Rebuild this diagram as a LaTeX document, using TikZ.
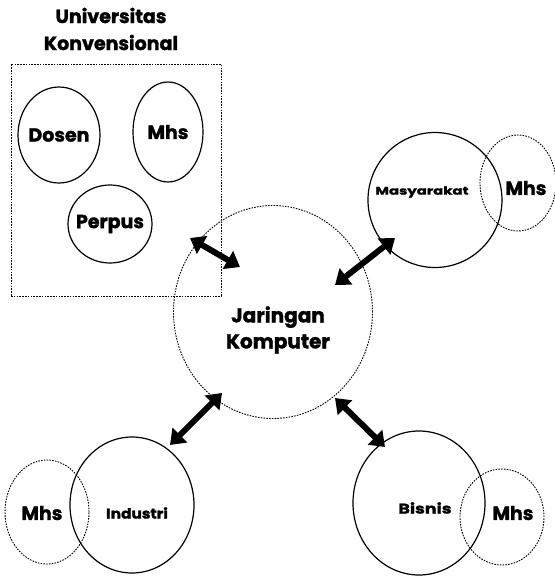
\documentclass[tikz,border=0pt]{standalone}
\usepackage{fontspec}
\setmainfont{Poppins}[BoldFeatures={FakeBold=1.5}]
\usetikzlibrary{shapes.geometric,arrows.meta}
\tikzset{
  solidc/.style={ellipse,draw,line width=1.2pt,inner sep=0pt},
  dashc/.style={ellipse,draw,line width=0.9pt,dash pattern=on 1.6pt off 1.2pt,inner sep=0pt},
  lbl/.style={font=\fontsize{19}{19}\selectfont\bfseries},
  biarrow/.style={line width=6pt,{Triangle[length=14pt,width=20pt]}-{Triangle[length=14pt,width=20pt]}}
}
\begin{document}
\begin{tikzpicture}[x=1pt,y=-1pt]
\useasboundingbox (0,0) rectangle (555,582);
% title
\node[align=center,font=\fontsize{19}{27}\selectfont\bfseries] (title) at (111,29) {Universitas\\Konvensional};
% box
\node[draw,line width=0.9pt,dash pattern=on 1.6pt off 1.2pt,minimum width=210pt,minimum height=232pt,inner sep=0pt] (box) at (116,180) {};
\node[solidc,minimum width=82pt,minimum height=96pt] (dosen) at (59,135) {};
\node[lbl] (dosentxt) at (dosen.center) {Dosen};
\node[solidc,minimum width=70pt,minimum height=100pt] (mhs1) at (168,132) {};
\node[lbl] (mhs1txt) at (mhs1.center) {Mhs};
\node[solidc,minimum width=84pt,minimum height=78pt] (perpus) at (110,224) {};
\node[lbl] (perpustxt) at (perpus.center) {Perpus};
% center
\node[dashc,minimum width=199pt,minimum height=213pt] (jar) at (273,312) {};
\node[align=center,font=\fontsize{20}{26}\selectfont\bfseries] (jartxt) at (278,330) {Jaringan\\Komputer};
% masyarakat
\node[dashc,minimum width=76pt,minimum height=96pt] (mhs2) at (518,183) {};
\node[solidc,minimum width=134pt,minimum height=135pt] (mas) at (435,200) {};
\node[font=\fontsize{11}{11}\selectfont\bfseries,xscale=1.35] (mastxt) at (422,192) {Masyarakat};
\node[lbl] (mhs2txt) at (526,188) {Mhs};
% industri
\node[dashc,minimum width=84pt,minimum height=104pt] (mhs3) at (47,512) {};
\node[solidc,minimum width=124pt,minimum height=136pt] (ind) at (132,505) {};
\node[lbl] (mhs3txt) at (42,513) {Mhs};
\node[font=\fontsize{14}{14}\selectfont\bfseries,xscale=1.1] (indtxt) at (137,513) {Industri};
% bisnis
\node[dashc,minimum width=84pt,minimum height=96pt] (mhs4) at (502,517) {};
\node[solidc,minimum width=132pt,minimum height=144pt] (bis) at (419,503) {};
\node[font=\fontsize{14}{14}\selectfont\bfseries,xscale=1.25] (bistxt) at (425,508) {Bisnis};
\node[lbl] (mhs4txt) at (513,513) {Mhs};
% arrow end points
\coordinate (a1) at (190,238);
\coordinate (b1) at (240,267);
\coordinate (a2) at (395,238);
\coordinate (b2) at (335,285);
\coordinate (a3) at (222,393);
\coordinate (b3) at (170,445);
\coordinate (a4) at (335,398);
\coordinate (b4) at (385,447);
\draw[biarrow] (a1) -- (b1);
\draw[biarrow] (a2) -- (b2);
\draw[biarrow] (a3) -- (b3);
\draw[biarrow] (a4) -- (b4);
\end{tikzpicture}
\end{document}
